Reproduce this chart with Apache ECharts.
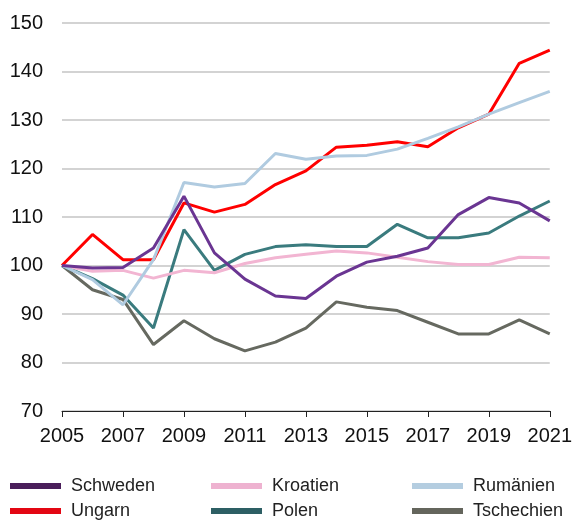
<!DOCTYPE html>
<html>
<head>
<meta charset="utf-8">
<script src="https://cdn.jsdelivr.net/npm/echarts@6/dist/echarts.min.js"></script>
<style>
  html, body { margin: 0; padding: 0; background: #fff; }
  #main { width: 575px; height: 520px; }
</style>
</head>
<body>
<div id="main"></div>
<script>
// Daten
const years = ['2005','2006','2007','2008','2009','2010','2011','2012','2013','2014','2015','2016','2017','2018','2019','2020','2021'];
const schweden   = [100, 99.5, 99.6, 103.6, 114.3, 102.6, 97.2, 93.7, 93.2, 97.8, 100.7, 101.9, 103.6, 110.5, 114.0, 112.9, 109.2];
const ungarn     = [100, 106.4, 101.2, 101.2, 112.9, 111.0, 112.6, 116.7, 119.5, 124.4, 124.8, 125.5, 124.5, 128.4, 131.2, 141.7, 144.4];
const kroatien   = [100, 98.8, 99.0, 97.4, 99.0, 98.5, 100.4, 101.6, 102.3, 103.0, 102.6, 101.7, 100.8, 100.2, 100.2, 101.7, 101.6];
const polen      = [100, 97.3, 93.9, 87.1, 107.4, 99.0, 102.3, 103.9, 104.3, 103.9, 103.9, 108.5, 105.7, 105.7, 106.7, 110.2, 113.3];
const rumaenien  = [100, 97.1, 91.9, 101.2, 117.1, 116.2, 116.9, 123.1, 121.9, 122.6, 122.7, 124.0, 126.2, 128.6, 131.2, 133.6, 135.9];
const tschechien = [100, 95.0, 93.0, 83.7, 88.6, 84.9, 82.4, 84.2, 87.1, 92.5, 91.4, 90.7, 88.3, 85.9, 85.9, 88.8, 85.9];

const font = '"Liberation Sans Narrow", "Liberation Sans", Arial, sans-serif';

const chart = echarts.init(document.getElementById('main'));

function line(name, data, color) {
    return {
        name: name,
        type: 'line',
        data: data,
        symbol: 'none',
        color: color,
        lineStyle: { width: 3, color: color },
        animation: false
    };
}

// eine Legende pro Eintrag, damit die Spalten genau sitzen
function legend(left, top, name, color) {
    return {
        left: left,
        top: top,
        padding: 0,
        itemWidth: 51,
        itemHeight: 6,
        icon: 'rect',
        textStyle: { fontFamily: font, fontSize: 18, color: '#222', padding: [0, 0, 0, 5] },
        data: [{ name: name, itemStyle: { color: color } }]
    };
}

const option = {
    backgroundColor: '#fff',
    grid: { left: 62, right: 18, top: 23, bottom: 109 },
    legend: [
        legend(10, 477, 'Schweden', '#4a1e5a'),
        legend(10, 502, 'Ungarn', '#e30613'),
        legend(211, 477, 'Kroatien', '#eeb2d0'),
        legend(211, 502, 'Polen', '#2d5f64'),
        legend(412, 477, 'Rumänien', '#b4cde0'),
        legend(412, 502, 'Tschechien', '#64655c')
    ],
    xAxis: {
        type: 'category',
        data: years,
        boundaryGap: false,
        axisLine: { lineStyle: { color: '#222', width: 1 } },
        axisTick: { interval: 1, length: 6, lineStyle: { color: '#222' } },
        axisLabel: { interval: 1, fontFamily: font, fontSize: 20, color: '#111', margin: 15 },
        splitLine: { show: false }
    },
    yAxis: {
        type: 'value',
        min: 70,
        max: 150,
        interval: 10,
        axisLine: { show: false },
        axisTick: { show: false },
        axisLabel: { fontFamily: font, fontSize: 20, color: '#111', margin: 19 },
        splitLine: { lineStyle: { color: '#c4c4c4', width: 1.5 } }
    },
    series: [
        line('Tschechien', tschechien, '#666960'),
        line('Polen', polen, '#3a7b7e'),
        line('Kroatien', kroatien, '#f2b5d2'),
        line('Ungarn', ungarn, '#ff0000'),
        line('Rumänien', rumaenien, '#b0cbe0'),
        line('Schweden', schweden, '#6a3592')
    ]
};

chart.setOption(option);
</script>
</body>
</html>
